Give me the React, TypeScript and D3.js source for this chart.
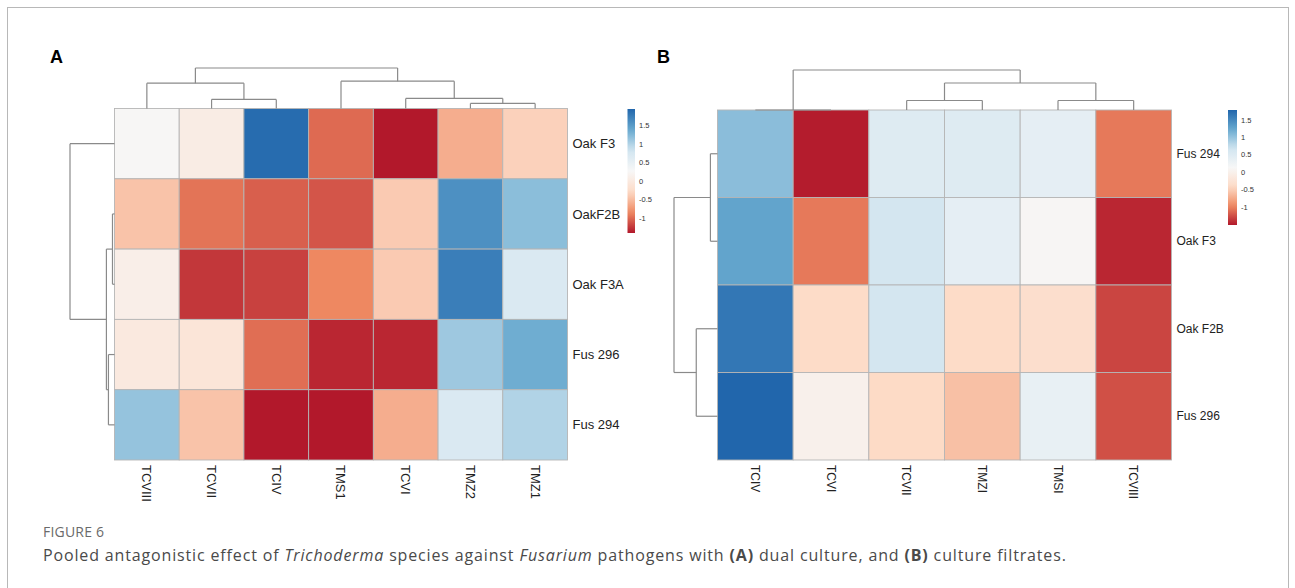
import React from "react";
import * as d3 from "d3";

// ---------- Data ----------
const colsA = ["TCVIII", "TCVII", "TCIV", "TMS1", "TCVI", "TMZ2", "TMZ1"];
const rowsA = ["Oak F3", "OakF2B", "Oak F3A", "Fus 296", "Fus 294"];
const valuesA = [
  [0.25, 0.05, 1.9, -1.0, -1.4, -0.6, -0.35],
  [-0.45, -0.95, -1.05, -1.1, -0.4, 1.6, 1.2],
  [0.1, -1.25, -1.2, -0.85, -0.4, 1.75, 0.7],
  [0.0, -0.08, -0.98, -1.33, -1.33, 1.1, 1.35],
  [1.15, -0.45, -1.4, -1.4, -0.6, 0.7, 1.0],
];
const colsB = ["TCIV", "TCVI", "TCVII", "TMZI", "TMSI", "TCVIII"];
const rowsB = ["Fus 294", "Oak F3", "Oak F2B", "Fus 296"];
const valuesB = [
  [1.05, -1.5, 0.5, 0.5, 0.4, -1.05],
  [1.28, -1.05, 0.65, 0.4, 0.1, -1.45],
  [1.65, -0.4, 0.65, -0.4, -0.35, -1.3],
  [1.79, 0.0, -0.42, -0.6, 0.35, -1.25],
];
const legendTicks = [1.5, 1, 0.5, 0, -0.5, -1];
const legendRangeA = [-1.4, 1.95];
const legendRangeB = [-1.52, 1.79];
const palette = ["#b2182b", "#ef8a62", "#fddbc7", "#f7f7f7", "#d1e5f0", "#67a9cf", "#2166ac"];

// dendrograms: leaf = index, node = {h, c:[a,b]}
type DNode = number | { h: number; c: [DNode, DNode] };
const colTreeA: DNode = {
  h: 4.0,
  c: [
    { h: 2.5, c: [0, { h: 0.9, c: [1, 2] }] },
    { h: 2.7, c: [3, { h: 1.0, c: [4, { h: 0.5, c: [5, 6] }] }] },
  ],
};
const rowTreeA: DNode = {
  h: 4.4,
  c: [0, { h: 0.8, c: [{ h: 0.2, c: [1, 2] }, { h: 0.6, c: [3, 4] }] }],
};
const colTreeB: DNode = {
  h: 4.0,
  c: [
    { h: 0, c: [0, 1] },
    { h: 2.7, c: [{ h: 0.95, c: [2, 3] }, { h: 0.95, c: [4, 5] }] },
  ],
};
const rowTreeB: DNode = {
  h: 4.3,
  c: [{ h: 0.7, c: [0, 1] }, { h: 2.1, c: [2, 3] }],
};

// ---------- helpers ----------
function makeColor(range: number[]) {
  const [lo, hi] = range;
  const dom = palette.map((_, i) => lo + ((hi - lo) * i) / (palette.length - 1));
  return d3.scaleLinear<string>().domain(dom).range(palette).interpolate(d3.interpolateRgb).clamp(true);
}

function dendroSegments(
  tree: DNode,
  leafPos: (i: number) => number,
  hScale: (h: number) => number
) {
  const lines: [number, number, number, number][] = [];
  function walk(n: DNode): { p: number; h: number } {
    if (typeof n === "number") return { p: leafPos(n), h: 0 };
    const a = walk(n.c[0]);
    const b = walk(n.c[1]);
    const L = hScale(n.h);
    lines.push([a.p, L, b.p, L]);
    lines.push([a.p, L, a.p, hScale(a.h)]);
    lines.push([b.p, L, b.p, hScale(b.h)]);
    return { p: (a.p + b.p) / 2, h: n.h };
  }
  walk(tree);
  return lines;
}

const LINE = "#8a8a8a";
const GRID = "#b5b5b5";
const FONT = "Liberation Sans, Arial, sans-serif";

function Heatmap(props: {
  id: string;
  cols: string[];
  rows: string[];
  values: number[][];
  x0: number;
  x1: number;
  y0: number;
  y1: number;
  colTree: DNode;
  rowTree: DNode;
  colTop: number;
  rowLeft: number;
  range: number[];
  legend: { x: number; w: number; y0: number; y1: number; lx: number };
  colFont: number;
  rowFont: number;
}) {
  const p = props;
  const color = makeColor(p.range);
  const xs = d3.scaleBand<number>().domain(d3.range(p.cols.length)).range([p.x0, p.x1]);
  const ys = d3.scaleBand<number>().domain(d3.range(p.rows.length)).range([p.y0, p.y1]);
  const maxCol = typeof p.colTree === "number" ? 1 : p.colTree.h;
  const maxRow = typeof p.rowTree === "number" ? 1 : p.rowTree.h;
  const hCol = d3.scaleLinear().domain([0, maxCol]).range([p.y0, p.colTop]);
  const hRow = d3.scaleLinear().domain([0, maxRow]).range([p.x0, p.rowLeft]);
  const colLines = dendroSegments(p.colTree, (i) => xs(i)! + xs.bandwidth() / 2, (h) => hCol(h));
  const rowLines = dendroSegments(p.rowTree, (i) => ys(i)! + ys.bandwidth() / 2, (h) => hRow(h));
  const lg = p.legend;
  const ly = d3.scaleLinear().domain(p.range).range([lg.y1, lg.y0]);
  const gradStops = d3.range(0, 1.0001, 0.05).map((t) => {
    const v = p.range[0] + t * (p.range[1] - p.range[0]);
    return { off: 1 - t, c: color(v) };
  });
  return (
    <g>
      <defs>
        <linearGradient id={"grad" + p.id} x1="0" y1="0" x2="0" y2="1">
          {gradStops
            .slice()
            .sort((a, b) => a.off - b.off)
            .map((s, i) => (
              <stop key={i} offset={s.off} stopColor={s.c} />
            ))}
        </linearGradient>
      </defs>
      {p.values.map((row, ri) =>
        row.map((v, ci) => (
          <rect
            key={ri + "-" + ci}
            x={xs(ci)}
            y={ys(ri)}
            width={xs.bandwidth()}
            height={ys.bandwidth()}
            fill={color(v)}
            stroke={GRID}
            strokeWidth={0.9}
          />
        ))
      )}
      {colLines.map((l, i) => (
        <line key={"c" + i} x1={l[0]} y1={l[1]} x2={l[2]} y2={l[3]} stroke={LINE} strokeWidth={1.2} />
      ))}
      {rowLines.map((l, i) => (
        <line key={"r" + i} x1={l[1]} y1={l[0]} x2={l[3]} y2={l[2]} stroke={LINE} strokeWidth={1.2} />
      ))}
      {p.rows.map((r, ri) => (
        <text
          key={r}
          x={p.x1 + 5}
          y={ys(ri)! + ys.bandwidth() / 2}
          dy="0.35em"
          fontSize={p.rowFont}
          fill="#222"
          fontFamily={FONT}
        >
          {r}
        </text>
      ))}
      {p.cols.map((c, ci) => {
        const cx = xs(ci)! + xs.bandwidth() / 2;
        return (
          <text
            key={c}
            transform={`translate(${cx},${p.y1 + 5}) rotate(90)`}
            dy="0.35em"
            fontSize={p.colFont}
            fill="#222"
            fontFamily={FONT}
          >
            {c}
          </text>
        );
      })}
      <rect x={lg.x} y={lg.y0} width={lg.w} height={lg.y1 - lg.y0} fill={`url(#grad${p.id})`} />
      {legendTicks.map((t) => (
        <text key={t} x={lg.lx} y={ly(t)} dy="0.35em" fontSize={7.5} fill="#333" fontFamily={FONT}>
          {t}
        </text>
      ))}
    </g>
  );
}

export default function App() {
  return (
    <div style={{ position: "absolute", left: 0, top: 0 }}>
      <svg width={1295} height={588} style={{ display: "block", background: "#fff" }}>
        <rect x={7.5} y={7.5} width={1281} height={620} fill="none" stroke="#b8b8b8" strokeWidth={1} />
        <text x={50} y={63} fontSize={18} fontWeight="bold" fontFamily={FONT}>
          A
        </text>
        <text x={657} y={63} fontSize={18} fontWeight="bold" fontFamily={FONT}>
          B
        </text>
        <Heatmap
          id="A"
          cols={colsA}
          rows={rowsA}
          values={valuesA}
          x0={114.5}
          x1={567.5}
          y0={108.5}
          y1={460}
          colTree={colTreeA}
          rowTree={rowTreeA}
          colTop={68}
          rowLeft={70}
          range={legendRangeA}
          legend={{ x: 627.5, w: 7.5, y0: 109, y1: 233, lx: 639 }}
          colFont={13}
          rowFont={13}
        />
        <Heatmap
          id="B"
          cols={colsB}
          rows={rowsB}
          values={valuesB}
          x0={717.5}
          x1={1171.5}
          y0={110}
          y1={460}
          colTree={colTreeB}
          rowTree={rowTreeB}
          colTop={70}
          rowLeft={674}
          range={legendRangeB}
          legend={{ x: 1228, w: 9, y0: 110, y1: 225, lx: 1241 }}
          colFont={12}
          rowFont={12}
        />
        <text x={43} y={537} fontSize={14} fill="#6a6a6a" fontFamily="Open Sans, sans-serif" letterSpacing={0.2}>
          FIGURE 6
        </text>
        <text
          x={43}
          y={561}
          fontSize={16}
          fill="#4a4a4a"
          fontFamily="Open Sans, sans-serif"
          letterSpacing={0.85}
        >
          Pooled antagonistic effect of <tspan fontStyle="italic">Trichoderma</tspan> species against{" "}
          <tspan fontStyle="italic">Fusarium</tspan> pathogens with <tspan fontWeight="bold">(A)</tspan> dual
          culture, and <tspan fontWeight="bold">(B)</tspan> culture filtrates.
        </text>
      </svg>
    </div>
  );
}
